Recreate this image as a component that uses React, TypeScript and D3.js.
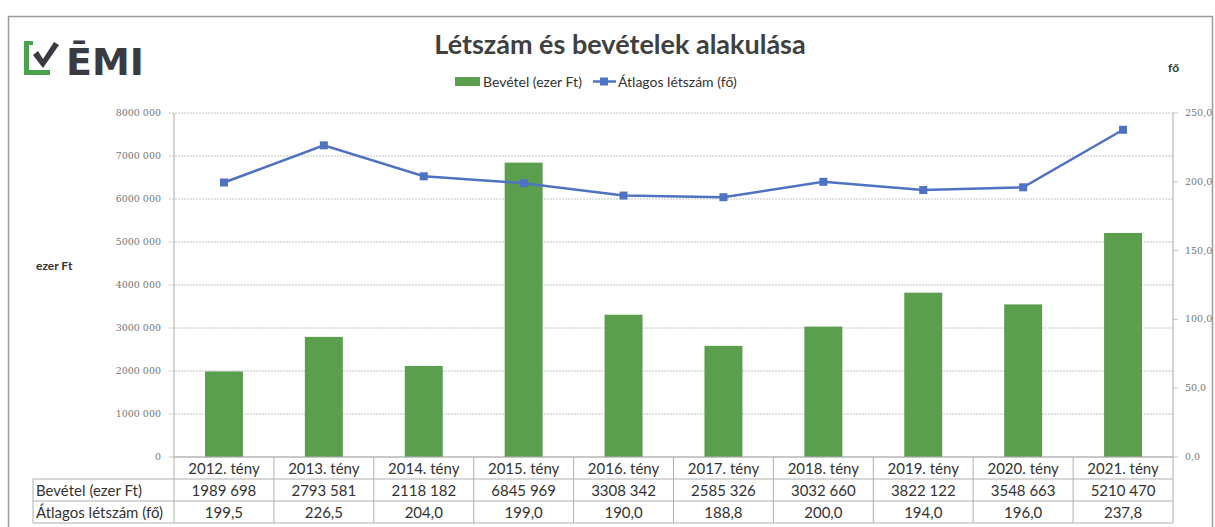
import React from "react";
import * as d3 from "d3";

const categories = ["2012. tény", "2013. tény", "2014. tény", "2015. tény", "2016. tény", "2017. tény", "2018. tény", "2019. tény", "2020. tény", "2021. tény"];
const revenue = [1989698, 2793581, 2118182, 6845969, 3308342, 2585326, 3032660, 3822122, 3548663, 5210470];
const headcount = [199.5, 226.5, 204.0, 199.0, 190.0, 188.8, 200.0, 194.0, 196.0, 237.8];
const leftTicks = [0, 1000000, 2000000, 3000000, 4000000, 5000000, 6000000, 7000000, 8000000];
const rightTicks = [0, 50, 100, 150, 200, 250];
const seriesNames = ["Bevétel (ezer Ft)", "Átlagos létszám (fő)"];

const W = 1215, H = 527;
const PL = 174, PR = 1173, PT = 113, PB = 457;
const GREEN = "#5b9e4d";
const BLUE = "#4f72c2";
const TXT = "#333";

const fmtThousands = (v: number) => {
  const s = String(v);
  if (s.length <= 3) return s;
  return s.slice(0, s.length - 3) + " " + s.slice(s.length - 3);
};
const fmtComma1 = (v: number) => v.toFixed(1).replace(".", ",");

export default function App() {
  const x = d3.scaleBand<string>().domain(categories).range([PL, PR]).paddingInner(0.62).paddingOuter(0.31);
  const xc = d3.scaleBand<string>().domain(categories).range([PL, PR]);
  const yL = d3.scaleLinear().domain([0, 8000000]).range([PB, PT]);
  const yR = d3.scaleLinear().domain([0, 250]).range([PB, PT]);
  const line = d3.line<number>().x((_, i) => xc(categories[i])! + xc.bandwidth() / 2).y((d) => yR(d));

  const rowTop = PB, rowH = 22;
  const tableLeft = 33;
  const font = "Lato, 'Open Sans', sans-serif";
  const tickFont = "'DejaVu Serif', 'Liberation Serif', serif";
  const tf = 15;

  return (
    <svg width={W} height={H} style={{ position: "absolute", left: 0, top: 0, background: "#fff" }}>
      <rect x={0} y={0} width={W} height={H} fill="#fff" />
      <rect x={8.5} y={16.5} width={1204} height={520} fill="none" stroke="#9a9a9a" strokeWidth={1.5} />

      {/* logo */}
      <g>
        <path d="M24,41 h9 v4 h-4 v25 h21 v5 h-26 z" fill="#4aa24c" />
        <path d="M33,55 l5,-4 l5,8 l11,-17 l5,3 l-16,23 z" fill="#3a3a40" />
        <text x={66} y={75} fontFamily="'DejaVu Sans', sans-serif" fontWeight={700} fontSize={38} fill="#3a3a40" letterSpacing={0}>ĒMI</text>
      </g>

      {/* title */}
      <text x={620} y={54} textAnchor="middle" fontFamily={font} fontWeight={700} fontSize={27} fill="#404040">Létszám és bevételek alakulása</text>

      {/* legend */}
      <rect x={455} y={77} width={25} height={9} fill={GREEN} />
      <text x={483} y={87} fontFamily={font} fontSize={14} fill={TXT}>{seriesNames[0]}</text>
      <line x1={593} y1={81.5} x2={616} y2={81.5} stroke={BLUE} strokeWidth={2.5} />
      <rect x={600} y={77.5} width={8} height={8} fill={BLUE} />
      <text x={618} y={87} fontFamily={font} fontSize={14} fill={TXT}>{seriesNames[1]}</text>

      {/* axis titles */}
      <text x={1168} y={72} fontFamily={font} fontWeight={700} fontSize={12} fill={TXT}>fő</text>
      <text x={36} y={270} fontFamily={font} fontWeight={700} fontSize={12} fill={TXT}>ezer Ft</text>

      {/* gridlines */}
      {leftTicks.map((t) => (
        <g key={t}>
          <line x1={PL - 5} x2={PR} y1={yL(t)} y2={yL(t)} stroke="#c4c4c4" strokeWidth={1} strokeDasharray={t === 0 ? undefined : "2,1"} />
          <text x={PL - 13} y={yL(t) + 3} textAnchor="end" fontFamily={tickFont} fontSize={9.5} fill="#777">{fmtThousands(t)}</text>
        </g>
      ))}
      {rightTicks.map((t) => (
        <g key={"r" + t}>
          <line x1={PR} x2={PR + 5} y1={yR(t)} y2={yR(t)} stroke="#c4c4c4" />
          <text x={1185} y={yR(t) + 3} fontFamily={tickFont} fontSize={9.5} fill="#777">{fmtComma1(t)}</text>
        </g>
      ))}
      <line x1={PL} x2={PL} y1={PT} y2={PB} stroke="#aaa" />
      <line x1={PR} x2={PR} y1={PT} y2={PB} stroke="#aaa" />

      {/* bars */}
      {revenue.map((v, i) => (
        <rect key={i} x={x(categories[i])} y={yL(v)} width={x.bandwidth()} height={yL(0) - yL(v)} fill={GREEN} />
      ))}

      {/* line */}
      <path d={line(headcount) || ""} fill="none" stroke={BLUE} strokeWidth={2.5} />
      {headcount.map((v, i) => (
        <rect key={i} x={xc(categories[i])! + xc.bandwidth() / 2 - 4} y={yR(v) - 4} width={8} height={8} fill={BLUE} />
      ))}

      {/* data table */}
      <g stroke="#b0b0b0" strokeWidth={1}>
        <line x1={PL} x2={PR} y1={rowTop} y2={rowTop} />
        <line x1={tableLeft} x2={PR} y1={rowTop + rowH} y2={rowTop + rowH} />
        <line x1={tableLeft} x2={PR} y1={rowTop + 2 * rowH} y2={rowTop + 2 * rowH} />
        <line x1={tableLeft} x2={PR} y1={rowTop + 3 * rowH} y2={rowTop + 3 * rowH} />
        <line x1={tableLeft} x2={tableLeft} y1={rowTop + rowH} y2={rowTop + 3 * rowH} />
        {categories.map((c) => (
          <line key={c} x1={xc(c)!} x2={xc(c)!} y1={rowTop} y2={rowTop + 3 * rowH} />
        ))}
        <line x1={PR} x2={PR} y1={rowTop} y2={rowTop + 3 * rowH} />
      </g>
      {categories.map((c, i) => {
        const cx = xc(c)! + xc.bandwidth() / 2;
        return (
          <g key={c} fontFamily={font} fontSize={tf} fill={TXT} textAnchor="middle">
            <text x={cx} y={rowTop + 17}>{c}</text>
            <text x={cx} y={rowTop + rowH + 17}>{fmtThousands(revenue[i])}</text>
            <text x={cx} y={rowTop + 2 * rowH + 17}>{fmtComma1(headcount[i])}</text>
          </g>
        );
      })}
      <text x={tableLeft + 3} y={rowTop + rowH + 17} fontFamily={font} fontSize={tf} fill={TXT}>{seriesNames[0]}</text>
      <text x={tableLeft + 3} y={rowTop + 2 * rowH + 17} fontFamily={font} fontSize={tf} fill={TXT}>{seriesNames[1]}</text>
    </svg>
  );
}
